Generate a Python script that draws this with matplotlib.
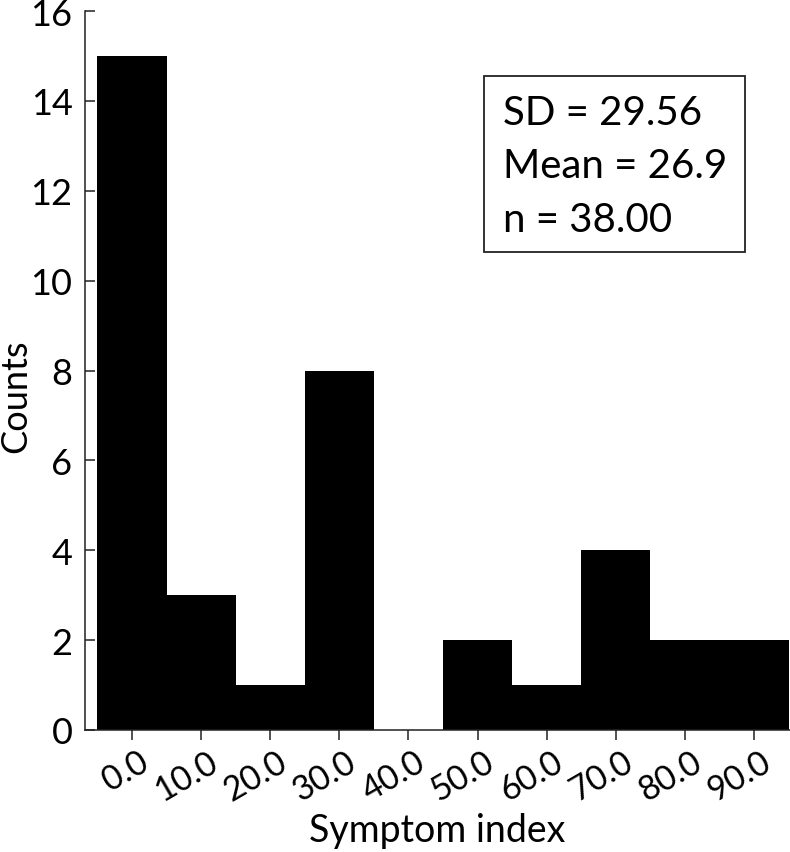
import matplotlib
matplotlib.use("Agg")
import matplotlib.pyplot as plt
import matplotlib.transforms as mtransforms
from matplotlib.patches import Rectangle

plt.rcParams['font.family'] = ['Lato', 'DejaVu Sans']

bin_centers = [0, 10, 20, 30, 40, 50, 60, 70, 80, 90]
counts = [15, 3, 1, 8, 0, 2, 1, 4, 2, 2]
tick_labels = ["0.0", "10.0", "20.0", "30.0", "40.0", "50.0", "60.0", "70.0", "80.0", "90.0"]
y_ticks = [0, 2, 4, 6, 8, 10, 12, 14, 16]
stats_lines = ["SD = 29.56", "Mean = 26.9", "n = 38.00"]
xlabel = "Symptom index"
ylabel = "Counts"

fig = plt.figure(figsize=(7.9, 8.53), dpi=100)
ax = fig.add_axes([85/790, (853-731)/853, (790-85)/790, (731-12)/853])

ax.bar(bin_centers, counts, width=10, color='black', edgecolor='none', align='center')

ax.set_xlim(-6.8, 95.2)
ax.set_ylim(0, 16)

for s in ['top', 'right']:
    ax.spines[s].set_visible(False)
for s in ['left', 'bottom']:
    ax.spines[s].set_linewidth(1.1)
    ax.spines[s].set_color('#222222')

ax.set_yticks(y_ticks)
ax.set_yticklabels([str(v) for v in y_ticks])
ax.tick_params(axis='y', direction='in', length=7.5, width=1.1, pad=9, labelsize=26, color='#222222')
ax.set_xticks(bin_centers)
ax.set_xticklabels(tick_labels, rotation=30, ha='right', va='center', rotation_mode='anchor')
ax.tick_params(axis='x', direction='out', length=7.5, width=1.1, pad=13, labelsize=24.5, color='#222222')
offset = mtransforms.ScaledTranslation(10/72, 0, fig.dpi_scale_trans)
for lab in ax.get_xticklabels():
    lab.set_transform(lab.get_transform() + offset)

ax.set_xlabel(xlabel, fontsize=27)
ax.xaxis.set_label_coords(0.5, -0.155)
ax.xaxis.label.set_va('baseline')
ax.set_ylabel(ylabel, fontsize=26)
ax.yaxis.set_label_coords(-0.098, 0.465)
ax.yaxis.label.set_va('center')

# stats box
ax.add_patch(Rectangle((0.566, 0.665), 0.936 - 0.566, 0.9096 - 0.665, transform=ax.transAxes,
                       facecolor='white', edgecolor='#222222', linewidth=1.3, zorder=3))
for yb, line in zip([0.843, 0.769, 0.694], stats_lines):
    ax.text(0.593, yb, line, transform=ax.transAxes, fontsize=29, va='baseline', ha='left', zorder=4)

fig.savefig('out.png', dpi=100)
